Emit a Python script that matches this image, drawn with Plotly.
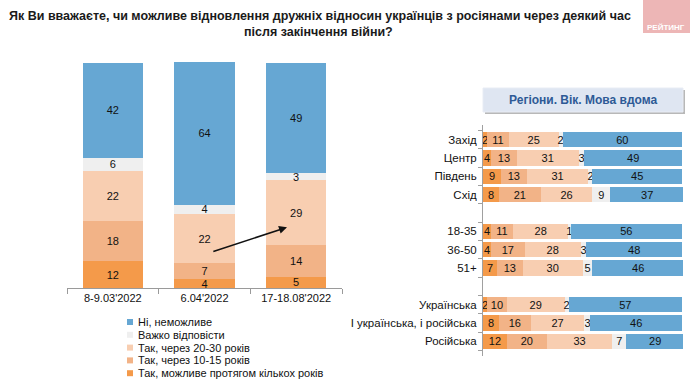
import plotly.graph_objects as go

# ---------------- data ----------------
title_lines = ["Як Ви вважаєте, чи можливе відновлення дружніх відносин українців з росіянами через деякий час",
               "після закінчення війни?"]
series_names = ["Так, можливе протягом кількох років", "Так, через 10-15 років",
                "Так, через 20-30 років", "Важко відповісти", "Ні, неможливе"]
series_colors = ["#F49A4A", "#F2B387", "#F8CEB1", "#EFEFEF", "#66A7D3"]

waves = ["8-9.03'2022", "6.04'2022", "17-18.08'2022"]
wave_few = [12, 4, 5]
wave_10_15 = [18, 7, 14]
wave_20_30 = [22, 22, 29]
wave_hard = [6, 4, 3]
wave_no = [42, 64, 49]

panel_title = "Регіони. Вік. Мова вдома"
groups = ["Захід", "Центр", "Південь", "Схід", "18-35", "36-50", "51+",
          "Українська", "І українська, і російська", "Російська"]
group_sizes = [4, 3, 3]
grp_few = [2, 4, 9, 8, 4, 4, 7, 2, 8, 12]
grp_10_15 = [11, 13, 13, 21, 11, 17, 13, 10, 16, 20]
grp_20_30 = [25, 31, 31, 26, 28, 28, 30, 29, 27, 33]
grp_hard = [2, 3, 2, 9, 1, 3, 5, 2, 3, 7]
grp_no = [60, 49, 45, 37, 56, 48, 46, 57, 46, 29]

logo_text = "РЕЙТИНГ"

# ---------------- figure ----------------
W, H = 690, 387
FONT = "Liberation Sans Narrow, Arial Narrow, Liberation Sans, Arial, sans-serif"

wave_series = [wave_few, wave_10_15, wave_20_30, wave_hard, wave_no]
grp_series = [grp_few, grp_10_15, grp_20_30, grp_hard, grp_no]

# row positions with one blank row between groups
rows = []
r = 0
for gi, n in enumerate(group_sizes):
    for k in range(n):
        rows.append(r)
        r += 1
    if gi < len(group_sizes) - 1:
        r += 1
n_rows = r

fig = go.Figure()
for name, color, vals in zip(series_names, series_colors, wave_series):
    fig.add_trace(go.Bar(
        x=list(range(len(waves))), y=vals, name=name, marker=dict(color=color, line=dict(width=0)),
        width=0.66, text=[str(v) for v in vals], textposition="inside", insidetextanchor="middle",
        textangle=0, textfont=dict(color="#111", size=11, family=FONT), xaxis="x", yaxis="y",
        showlegend=False, hoverinfo="skip"))
for name, color, vals in zip(series_names, series_colors, grp_series):
    fig.add_trace(go.Bar(
        x=vals, y=rows, orientation="h", name=name, marker=dict(color=color, line=dict(width=0)),
        width=0.84, text=[str(v) for v in vals], textposition="inside", insidetextanchor="middle",
        textangle=0, textfont=dict(color="#111", size=11, family=FONT), xaxis="x2", yaxis="y2",
        showlegend=False, hoverinfo="skip"))

def px_x(p):
    return p / W

def px_y(p):
    return 1 - p / H

fig.update_layout(
    width=W, height=H, margin=dict(l=0, r=0, t=0, b=0),
    paper_bgcolor="white", plot_bgcolor="rgba(0,0,0,0)",
    barmode="stack", showlegend=False,
    uniformtext=dict(minsize=11, mode="show"),
    font=dict(family=FONT, size=11, color="#111"),
    xaxis=dict(domain=[px_x(67), px_x(342)], range=[-0.5, 2.5], tickmode="array",
               tickvals=list(range(len(waves))), ticktext=waves, showline=True,
               linecolor="#9a9a9a", linewidth=1, ticks="", showgrid=False, zeroline=False,
               tickfont=dict(size=11, color="#111"),
               minor=dict(tickvals=[-0.5, 0.5, 1.5, 2.5], ticks="outside", ticklen=5,
                          tickcolor="#9a9a9a")),
    yaxis=dict(domain=[px_y(288), px_y(62)], range=[0, 100.5], visible=False),
    xaxis2=dict(domain=[px_x(483), px_x(683)], range=[0, 100.5], visible=False, anchor="y2"),
    yaxis2=dict(domain=[px_y(356), px_y(125)], range=[n_rows - 0.2, -0.8], anchor="x2",
                tickmode="array", tickvals=rows, ticktext=groups, ticks="", showline=True,
                linecolor="#a0a0a0", linewidth=1, showgrid=False, zeroline=False,
                tickfont=dict(size=11.5, color="#111"), ticklabelstandoff=3,
                minor=dict(tickvals=[k - 0.5 for k in range(n_rows + 1)], ticks="outside",
                           ticklen=4, tickcolor="#a0a0a0")),
)

shapes = []
annotations = []

# title
annotations.append(dict(text="<b>" + title_lines[0] + "</b>", x=px_x(320), y=px_y(16), xref="paper",
                        yref="paper", showarrow=False, xanchor="center", yanchor="middle",
                        font=dict(size=12.5, color="#1a1a1a", family="Liberation Sans, Arial")))
annotations.append(dict(text="<b>" + title_lines[1] + "</b>", x=px_x(318), y=px_y(32), xref="paper",
                        yref="paper", showarrow=False, xanchor="center", yanchor="middle",
                        font=dict(size=12.5, color="#1a1a1a", family="Liberation Sans, Arial")))

# logo
shapes.append(dict(type="rect", xref="paper", yref="paper", x0=px_x(643), x1=1, y0=px_y(33), y1=1,
                   fillcolor="#EDB6B6", line=dict(width=0)))
annotations.append(dict(text="<b>" + logo_text + "</b>", x=px_x(666), y=px_y(27), xref="paper",
                        yref="paper", showarrow=False, xanchor="center", yanchor="middle",
                        font=dict(size=8, color="white", family="Liberation Sans, Arial")))

# panel title box
shapes.append(dict(type="rect", xref="paper", yref="paper", x0=px_x(485), x1=px_x(685),
                   y0=px_y(114), y1=px_y(90), fillcolor="#B8B8B8", line=dict(width=0)))
shapes.append(dict(type="rect", xref="paper", yref="paper", x0=px_x(483), x1=px_x(683),
                   y0=px_y(112), y1=px_y(88), fillcolor="#DFE6F2", line=dict(color="#E8ECF4", width=1)))
annotations.append(dict(text="<b>" + panel_title + "</b>", x=px_x(583), y=px_y(100), xref="paper",
                        yref="paper", showarrow=False, xanchor="center", yanchor="middle",
                        font=dict(size=12, color="#2E5A96", family=FONT)))

# arrow
annotations.append(dict(x=1.9, y=27, ax=1.08, ay=16, xref="x", yref="y", axref="x", ayref="y",
                        text="", showarrow=True, arrowhead=2, arrowsize=1, arrowwidth=1.6,
                        arrowcolor="#111"))

# manual legend (reverse order)
leg_x0 = 127
leg_y0 = 322
leg_dy = 12.8
for i, (name, color) in enumerate(zip(series_names[::-1], series_colors[::-1])):
    yc = leg_y0 + i * leg_dy
    shapes.append(dict(type="rect", xref="paper", yref="paper", x0=px_x(leg_x0), x1=px_x(leg_x0 + 6),
                       y0=px_y(yc + 3), y1=px_y(yc - 3), fillcolor=color, line=dict(width=0)))
    annotations.append(dict(text=name, x=px_x(leg_x0 + 9), y=px_y(yc), xref="paper", yref="paper",
                            showarrow=False, xanchor="left", yanchor="middle",
                            font=dict(size=11, color="#111", family=FONT)))

fig.update_layout(shapes=shapes, annotations=annotations)
fig.write_html("out.html", config={"displayModeBar": False},
               post_script="document.body.style.margin='0';document.body.style.overflow='hidden';")
